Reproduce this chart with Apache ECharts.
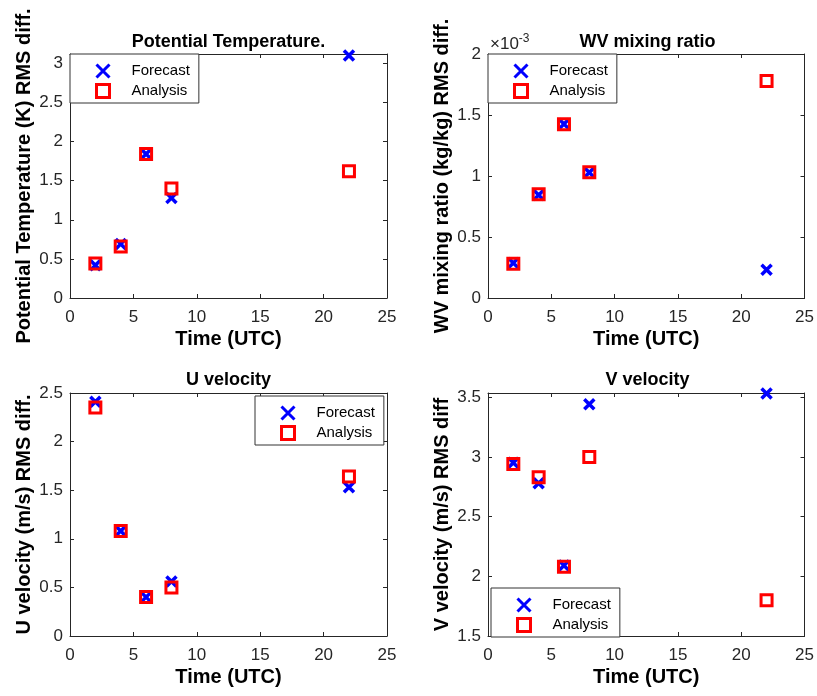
<!DOCTYPE html>
<html>
<head>
<meta charset="utf-8">
<script src="https://cdn.jsdelivr.net/npm/echarts@6/dist/echarts.min.js"></script>
<style>
html,body{margin:0;padding:0;background:#fff;}
#chart{width:817px;height:696px;}
</style>
</head>
<body>
<div id="chart"></div>
<script>
// ---- data ----
const times = [2, 4, 6, 8, 22];
const ptForecast = [0.42, 0.69, 1.84, 1.28, 3.10];
const ptAnalysis = [0.44, 0.66, 1.84, 1.40, 1.62];
const wvForecast = [0.286e-3, 0.845e-3, 1.426e-3, 1.028e-3, 0.232e-3];
const wvAnalysis = [0.280e-3, 0.850e-3, 1.424e-3, 1.030e-3, 1.778e-3];
const uForecast = [2.41, 1.08, 0.40, 0.56, 1.53];
const uAnalysis = [2.35, 1.08, 0.40, 0.50, 1.64];
const vForecast = [2.95, 2.78, 2.09, 3.44, 3.53];
const vAnalysis = [2.94, 2.83, 2.08, 3.00, 1.80];

const titles = ['Potential Temperature.', 'WV mixing ratio', 'U velocity', 'V velocity'];
const yNames = ['Potential Temperature (K) RMS diff.', 'WV mixing ratio (kg/kg) RMS diff.',
                'U velocity (m/s) RMS diff.', 'V velocity (m/s) RMS diff'];
const xName = 'Time (UTC)';
const seriesNames = ['Forecast', 'Analysis'];

// ---- layout ----
const FONT = "'Liberation Sans', Arial, Helvetica, sans-serif";
const AX = '#262626';
const grids = [
  {left: 70, top: 54, width: 317, height: 244},
  {left: 488, top: 54, width: 319, height: 244},
  {left: 70, top: 393, width: 317, height: 243},
  {left: 488, top: 393, width: 319, height: 243}
];
const yRanges = [
  {min: 0, max: 3.12, interval: 0.5, hideMax: true},
  {min: 0, max: 0.002, interval: 0.0005, hideMax: false},
  {min: 0, max: 2.5, interval: 0.5, hideMax: false},
  {min: 1.5, max: 3.535, interval: 0.5, hideMax: true}
];
const fdata = [ptForecast, wvForecast, uForecast, vForecast];
const adata = [ptAnalysis, wvAnalysis, uAnalysis, vAnalysis];
const legendPos = [
  {left: 70, top: 54},
  {left: 488, top: 54},
  {left: 255, top: 396},
  {left: 491, top: 588}
];

const xAxes = [], yAxes = [], series = [], titleArr = [], legends = [];
const axisLineStyle = {show: true, onZero: false, lineStyle: {color: AX, width: 1}};
const tickStyle = {show: true, inside: true, length: 4, lineStyle: {color: AX}};

function fmtY(i) {
  return function (v) {
    if (i === 1) v = v * 1000;
    return String(+v.toFixed(2));
  };
}

for (let i = 0; i < 4; i++) {
  xAxes.push({
    type: 'value', gridIndex: i, position: 'bottom', min: 0, max: 25, interval: 5,
    axisLine: axisLineStyle, axisTick: tickStyle, splitLine: {show: false},
    axisLabel: {color: AX, fontSize: 17, fontFamily: FONT, margin: 11},
    name: xName, nameLocation: 'middle', nameGap: 31,
    nameTextStyle: {color: '#000', fontSize: 20, fontWeight: 'bold', fontFamily: FONT}
  });
  const yr = yRanges[i];
  yAxes.push({
    type: 'value', gridIndex: i, position: 'left', min: yr.min, max: yr.max, interval: yr.interval,
    axisLine: axisLineStyle, axisTick: tickStyle, splitLine: {show: false},
    axisLabel: {color: AX, fontSize: 17, fontFamily: FONT, margin: 7, formatter: fmtY(i),
                showMaxLabel: !yr.hideMax},
    name: yNames[i], nameLocation: 'middle', nameGap: 36,
    nameTextStyle: {color: '#000', fontSize: 20, fontWeight: 'bold', fontFamily: FONT}
  });
}
for (let i = 0; i < 4; i++) {
  xAxes.push({
    type: 'value', gridIndex: i, position: 'top', min: 0, max: 25, interval: 5,
    axisLine: axisLineStyle, axisTick: tickStyle, axisLabel: {show: false}, splitLine: {show: false}
  });
  const yr = yRanges[i];
  yAxes.push({
    type: 'value', gridIndex: i, position: 'right', min: yr.min, max: yr.max, interval: yr.interval,
    axisLine: axisLineStyle, axisTick: tickStyle, axisLabel: {show: false}, splitLine: {show: false}
  });
}

const xPath = 'path://M0,0L10,10M0,10L10,0';
const sqPath = 'path://M0,0L10,0L10,10L0,10Z';
for (let i = 0; i < 4; i++) {
  series.push({
    name: seriesNames[0], type: 'scatter', xAxisIndex: i, yAxisIndex: i,
    data: times.map((t, k) => [t, fdata[i][k]]),
    symbol: xPath, symbolSize: 10,
    itemStyle: {color: 'transparent', borderColor: '#0000ff', borderWidth: 3.5, opacity: 1},
    emphasis: {disabled: true}, silent: true, z: 2
  });
  series.push({
    name: seriesNames[1], type: 'scatter', xAxisIndex: i, yAxisIndex: i,
    data: times.map((t, k) => [t, adata[i][k]]),
    symbol: sqPath, symbolSize: 11,
    itemStyle: {color: 'transparent', borderColor: '#ff0000', borderWidth: 3, opacity: 1},
    emphasis: {disabled: true}, silent: true, z: 3
  });
  const g = grids[i];
  titleArr.push({
    text: titles[i], left: g.left + g.width / 2, top: i < 2 ? 33 : 371, textAlign: 'center',
    padding: 0,
    textStyle: {color: '#000', fontSize: 18, fontWeight: 'bold', fontFamily: FONT}
  });
  legends.push({
    data: seriesNames, orient: 'vertical', left: legendPos[i].left, top: legendPos[i].top,
    itemWidth: 13, itemHeight: 13, itemGap: 4, padding: [9, 9, 4, 25],
    backgroundColor: '#fff', borderColor: '#333', borderWidth: 1, borderRadius: 0,
    selectedMode: false,
    itemStyle: {borderWidth: 3},
    textStyle: {color: '#000', fontSize: 15, lineHeight: 14, fontFamily: FONT, padding: [0, 0, 0, 17]}
  });
}
titleArr.push({
  text: '{a|×10}{b|-3}', left: 490, top: 33, padding: 0,
  textStyle: {fontWeight: 'normal', rich: {
    a: {color: AX, fontSize: 17, fontWeight: 'normal', fontFamily: FONT, verticalAlign: 'bottom'},
    b: {color: AX, fontSize: 12, fontWeight: 'normal', fontFamily: FONT, verticalAlign: 'top', padding: [0, 0, 8, 0]}
  }}
});

const chart = echarts.init(document.getElementById('chart'), null, {renderer: 'canvas'});
chart.setOption({
  animation: false,
  backgroundColor: '#fff',
  title: titleArr,
  legend: legends,
  grid: grids.map(g => Object.assign({containLabel: false, show: false}, g)),
  xAxis: xAxes,
  yAxis: yAxes,
  series: series
});
</script>
</body>
</html>
